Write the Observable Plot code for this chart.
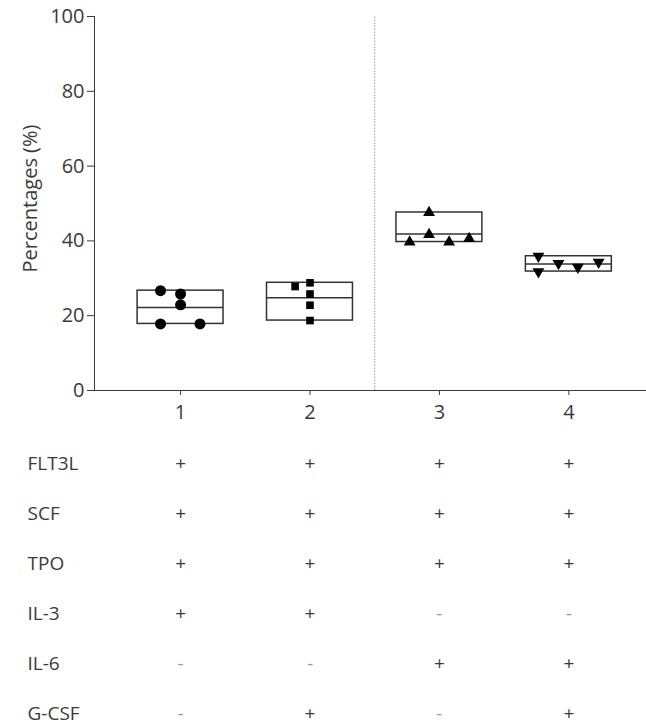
<!DOCTYPE html>
<html>
<head>
<meta charset="utf-8">
<script src="https://cdn.jsdelivr.net/npm/d3@7"></script>
<script src="https://cdn.jsdelivr.net/npm/@observablehq/plot@0.6"></script>
<style>
  html, body { margin: 0; padding: 0; background: #fff; }
  #chart svg { display: block; }
</style>
</head>
<body>
<div id="chart"></div>
<script>
// ---- data ----
const groups = [1, 2, 3, 4];
const values1 = [26.7, 25.8, 22.9, 17.8, 17.8];
const values2 = [27.8, 28.8, 25.8, 22.8, 18.7];
const values3 = [47.6, 39.7, 41.7, 39.7, 40.6];
const values4 = [35.9, 31.8, 34.0, 33.0, 34.3];
// horizontal scatter of the points within each group (x units)
const spread1 = [-0.155, 0, 0, -0.155, 0.15];
const spread2 = [-0.115, 0, 0, 0, 0];
const spread3 = [-0.08, -0.23, -0.08, 0.075, 0.23];
const spread4 = [-0.235, -0.235, -0.08, 0.07, 0.23];
const yTicks = [0, 20, 40, 60, 80, 100];
const rowNames = ["FLT3L", "SCF", "TPO", "IL-3", "IL-6", "G-CSF"];
const signs1 = ["+", "+", "+", "+", "-", "-"];
const signs2 = ["+", "+", "+", "+", "-", "+"];
const signs3 = ["+", "+", "+", "-", "+", "-"];
const signs4 = ["+", "+", "+", "-", "+", "+"];

// ---- build tables ----
const triangleDown = {
  draw(context, size) {
    const y = -Math.sqrt(size / (Math.sqrt(3) * 3));
    context.moveTo(0, -y * 2);
    context.lineTo(-Math.sqrt(3) * y, y);
    context.lineTo(Math.sqrt(3) * y, y);
    context.closePath();
  }
};
const valueSets = [values1, values2, values3, values4];
const spreadSets = [spread1, spread2, spread3, spread4];
const symbols = ["circle", "square", "triangle", triangleDown];
const radii = [5.5, 4.3, 4.4, 4.4];
const points = groups.flatMap((g, i) =>
  valueSets[i].map((v, j) => ({group: g, value: v, xpos: g + spreadSets[i][j]})));
const summary = groups.map((g, i) => ({
  group: g,
  min: d3.min(valueSets[i]),
  max: d3.max(valueSets[i]),
  mean: d3.mean(valueSets[i])
}));
const signSets = [signs1, signs2, signs3, signs4];
const cells = groups.flatMap((g, i) =>
  rowNames.map((r, k) => ({group: g, row: r, sign: signSets[i][k]})));

const half = 0.332;
const xDomain = [0.335, 4.6];
const font = "'Open Sans', 'DejaVu Sans', sans-serif";
const ink = "#3a3a3a";

const main = Plot.plot({
  width: 646,
  height: 425,
  marginLeft: 94,
  marginRight: 0,
  marginTop: 16,
  marginBottom: 35,
  style: {fontFamily: font, fontSize: "20px", color: ink, background: "#fff", overflow: "visible"},
  x: {domain: xDomain, ticks: groups, tickFormat: d3.format("d"), tickSize: 5, tickPadding: 9, line: true, label: null},
  y: {domain: [0, 100], ticks: yTicks, tickSize: 7, tickPadding: 3, line: true, label: null},
  marks: [
    Plot.ruleX([2.5], {y1: 0, y2: 100, stroke: "#999", strokeWidth: 1, strokeDasharray: "1.5,1.5"}),
    Plot.rect(summary, {
      x1: d => d.group - half, x2: d => d.group + half,
      y1: "min", y2: "max", fill: "white", stroke: "#333", strokeWidth: 1.5
    }),
    Plot.ruleY(summary, {y: "mean", x1: d => d.group - half, x2: d => d.group + half, stroke: "#333", strokeWidth: 1.5}),
    ...groups.map((g, i) => Plot.dot(points.filter(p => p.group === g), {
      x: "xpos", y: "value", symbol: symbols[i], r: radii[i], fill: "black", stroke: "none"
    })),
    Plot.text(["Percentages (%)"], {
      frameAnchor: "left", textAnchor: "middle", rotate: -90, dx: -64, dy: -5, fontSize: 20, fill: ink
    })
  ]
});

const table = Plot.plot({
  width: 646,
  height: 301,
  marginLeft: 94,
  marginRight: 0,
  marginTop: 38,
  marginBottom: 13,
  style: {fontFamily: font, fontSize: "19px", color: ink, background: "#fff", overflow: "visible"},
  x: {domain: xDomain, axis: null},
  y: {type: "point", domain: rowNames, padding: 0, axis: null},
  marks: [
    Plot.text(rowNames, {y: d => d, frameAnchor: "left", textAnchor: "start", dx: -67, fill: ink, fontSize: 19, letterSpacing: "0.6px"}),
    Plot.text(cells, {
      x: "group", y: "row", text: "sign", fontSize: 19,
      fill: d => d.sign === "+" ? ink : "#999"
    })
  ]
});

document.getElementById("chart").append(main, table);
</script>
</body>
</html>
